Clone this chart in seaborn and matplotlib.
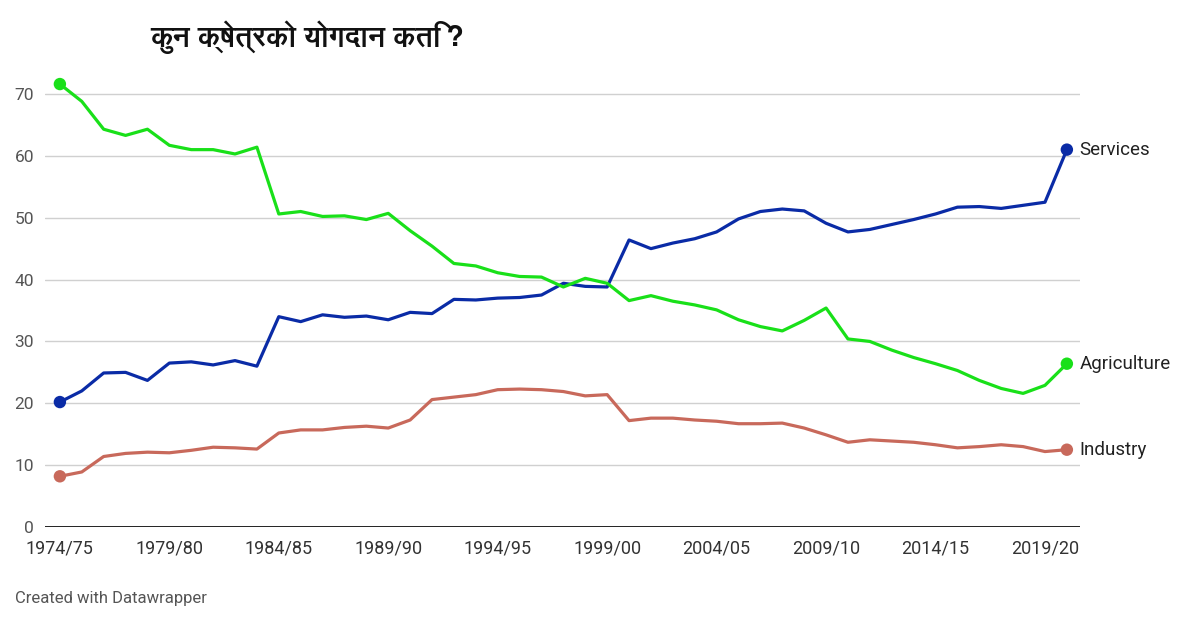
import numpy as np
import pandas as pd
import matplotlib
matplotlib.use("Agg")
import matplotlib.pyplot as plt
from matplotlib import font_manager
from matplotlib.ft2font import FT2Font
import seaborn as sns

# fiscal years 1974/75 .. 2020/21
years = [f"{y}/{str(y + 1)[-2:]}" for y in range(1974, 2021)]

agriculture = [71.6, 68.8, 64.3, 63.3, 64.3, 61.7, 61.0, 61.0, 60.3, 61.4,
               50.6, 51.0, 50.2, 50.3, 49.7, 50.7, 47.9, 45.4, 42.6, 42.2,
               41.1, 40.5, 40.4, 38.8, 40.2, 39.4, 36.6, 37.4, 36.5, 35.9,
               35.1, 33.5, 32.4, 31.7, 33.4, 35.4, 30.4, 30.0, 28.6, 27.4,
               26.4, 25.3, 23.7, 22.4, 21.6, 22.9, 26.4]
services = [20.2, 22.0, 24.9, 25.0, 23.7, 26.5, 26.7, 26.2, 26.9, 26.0,
            34.0, 33.2, 34.3, 33.9, 34.1, 33.5, 34.7, 34.5, 36.8, 36.7,
            37.0, 37.1, 37.5, 39.4, 38.9, 38.8, 46.4, 45.0, 45.9, 46.6,
            47.7, 49.8, 51.0, 51.4, 51.1, 49.1, 47.7, 48.1, 48.9, 49.7,
            50.6, 51.7, 51.8, 51.5, 52.0, 52.5, 61.0]
industry = [8.2, 8.9, 11.4, 11.9, 12.1, 12.0, 12.4, 12.9, 12.8, 12.6,
            15.2, 15.7, 15.7, 16.1, 16.3, 16.0, 17.3, 20.6, 21.0, 21.4,
            22.2, 22.3, 22.2, 21.9, 21.2, 21.4, 17.2, 17.6, 17.6, 17.3,
            17.1, 16.7, 16.7, 16.8, 16.0, 14.9, 13.7, 14.1, 13.9, 13.7,
            13.3, 12.8, 13.0, 13.3, 13.0, 12.2, 12.5]

sectors = ["Services", "Agriculture", "Industry"]
colors = {"Services": "#0a2ba6", "Agriculture": "#19e019", "Industry": "#c8695b"}
tick_years = years[::5]
y_ticks = [0, 10, 20, 30, 40, 50, 60, 70]

idx = list(range(len(years)))
df = pd.concat([
    pd.DataFrame({"idx": idx, "year": years, "value": services, "sector": "Services"}),
    pd.DataFrame({"idx": idx, "year": years, "value": agriculture, "sector": "Agriculture"}),
    pd.DataFrame({"idx": idx, "year": years, "value": industry, "sector": "Industry"}),
])


def find_devanagari_font():
    best = None
    for f in font_manager.fontManager.ttflist:
        try:
            cmap = FT2Font(f.fname).get_charmap()
        except Exception:
            continue
        if ord("क") in cmap and ord("्") in cmap:
            if f.weight in ("bold", 700) or "Bold" in f.fname:
                return f.name
            best = best or f.name
    return best


sns.set_theme(style="white")
plt.rcParams["font.family"] = ["Roboto", "DejaVu Sans"]
deva = find_devanagari_font()

fig = plt.figure(figsize=(12, 6.24), dpi=100)
ax = fig.add_axes([0.0375, 0.1554, 0.8625, 0.7436])

for y in y_ticks[1:]:
    ax.axhline(y, color="#d0d0d0", lw=1, zorder=0)
ax.axhline(0, color="#111111", lw=1.3, zorder=1)

sns.lineplot(data=df, x="idx", y="value", hue="sector", palette=colors,
             hue_order=sectors, linewidth=2.3, legend=False, ax=ax,
             solid_joinstyle="round", solid_capstyle="round")

ends = df[df["idx"].isin([0, len(years) - 1])]
sns.scatterplot(data=ends, x="idx", y="value", hue="sector", palette=colors,
                hue_order=sectors, s=80, linewidth=0, legend=False, ax=ax, zorder=5)

last = df[df["idx"] == len(years) - 1]
for _, r in last.iterrows():
    ax.annotate(r["sector"], (r["idx"], r["value"]), xytext=(9, 0),
                textcoords="offset points", va="center", ha="left",
                fontsize=13.5, color="#222222")

ax.set_xlim(-0.68, 46.6)
ax.set_ylim(0, 75)
ax.set_xticks([years.index(t) for t in tick_years])
ax.set_xticklabels(tick_years)
ax.set_yticks(y_ticks)
ax.tick_params(axis="x", labelsize=13, labelcolor="#333333", length=0, pad=9)
ax.tick_params(axis="y", labelsize=12.5, labelcolor="#555555", length=0, pad=8)
ax.set_xlabel("")
ax.set_ylabel("")
for s in ax.spines.values():
    s.set_visible(False)

title_family = [deva, "DejaVu Sans"] if deva else ["DejaVu Sans"]
fig.text(0.125, 0.94, "कुन क्षेत्रको योगदान कति?", family=title_family,
         fontsize=20.5, fontweight="bold", color="#111111", va="center")
fig.text(0.0125, 0.041, "Created with Datawrapper", fontsize=12,
         color="#555555", va="center")

fig.savefig("out.png", dpi=100)
